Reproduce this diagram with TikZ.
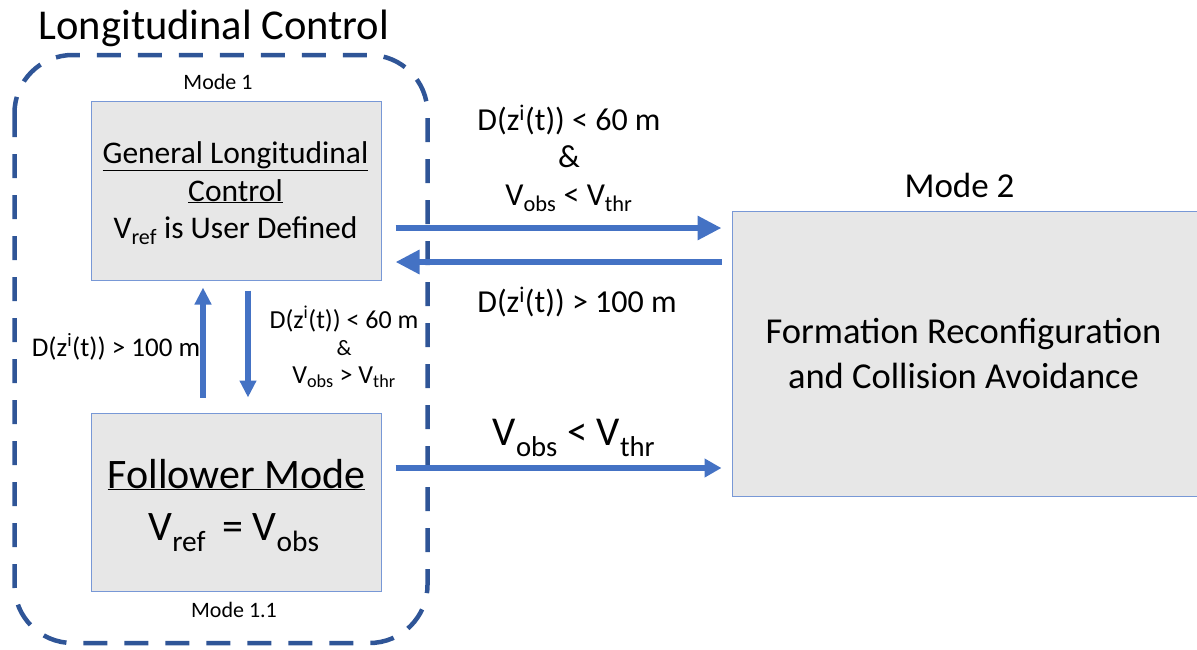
\documentclass[tikz,border=0pt]{standalone}
\usepackage{fontspec}
\setmainfont{Carlito}
\usetikzlibrary{arrows.meta}
\definecolor{boxfill}{RGB}{231,231,231}
\definecolor{boxline}{RGB}{120,152,214}
\definecolor{flowblue}{RGB}{68,114,196}
\definecolor{groupblue}{RGB}{47,85,151}
\newcommand{\fs}[1]{\fontsize{#1}{1.2\dimexpr#1pt\relax}\selectfont}
\newcommand{\dz}{D(z\textsuperscript{i}(t))}
\tikzset{
  x=1pt, y=-1pt,
  modebox/.style={draw=boxline, fill=boxfill, line width=1pt, inner sep=0pt},
  group/.style={draw=groupblue, line width=4.5pt, rounded corners=58pt,
    dash pattern=on 24pt off 17pt},
  txt/.style={anchor=base, inner sep=0pt, align=center},
  flow/.style={draw=flowblue, line width=6.5pt,
    -{Triangle[length=24pt,width=23pt]}},
  flowthin/.style={draw=flowblue, line width=5.5pt,
    -{Triangle[length=17pt,width=18pt]}},
  flowv/.style={draw=flowblue, line width=6pt,
    -{Triangle[length=17pt,width=16pt]}},
}
\begin{document}
\begin{tikzpicture}
\useasboundingbox (0,0) rectangle (1197,649);

% dashed group outline of the longitudinal control modes
\draw[group] (14.5,55) rectangle (427.5,643);
\node[txt, font=\fs{42.5}] (title) at (214,39) {Longitudinal Control};

% mode boxes
\node[modebox, minimum width=290pt, minimum height=179pt] (gen) at (236,190.5) {};
\node[modebox, minimum width=290pt, minimum height=178pt] (fol) at (236,502) {};
\node[modebox, minimum width=465pt, minimum height=285pt] (form) at (964.5,353.5) {};

% box titles and contents
\node[txt, font=\fs{22}] (m1) at (218,89) {Mode 1};
\node[txt, font=\fs{22}] (m11) at (234,617) {Mode 1.1};
\node[txt, font=\fs{35}] (m2) at (959.5,197) {Mode 2};

\node[txt, font=\fs{31.5}] (gen1) at (235.5,163) {\underline{General Longitudinal}};
\node[txt, font=\fs{31.5}] (gen2) at (235.5,201) {\underline{Control}};
\node[txt, font=\fs{31.5}] (gen3) at (235.5,238) {V\textsubscript{ref} is User Defined};

\node[txt, font=\fs{42}] (fol1) at (236.5,488) {\underline{Follower Mode}};
\node[txt, font=\fs{42}] (fol2) at (234,540) {V\textsubscript{ref}\, = V\textsubscript{obs}};

\node[txt, font=\fs{36.5}] (form1) at (963.5,343) {Formation Reconfiguration};
\node[txt, font=\fs{36.5}] (form2) at (963.5,388) {and Collision Avoidance};

% transitions
\draw[flow] ([shift={(14,37.5)}]gen.east) -- ([shift={(-10,-125.5)}]form.west);
\draw[flow] ([shift={(-10,-91.5)}]form.west) -- ([shift={(14,71.5)}]gen.east);
\draw[flowthin] ([shift={(14,-34)}]fol.east) -- ([shift={(-10,114.5)}]form.west);
\draw[flowv] ([shift={(-33,-15)}]fol.north) -- ([shift={(-33,7)}]gen.south);
\draw[flowv] ([shift={(12,10)}]gen.south) -- ([shift={(12,-15)}]fol.north);

% transition conditions
\node[txt, font=\fs{32}] (c1a) at (569,130) {\dz{} < 60 m};
\node[txt, font=\fs{32}] (c1b) at (569,167) {\&};
\node[txt, font=\fs{32}] (c1c) at (569,205) {V\textsubscript{obs} < V\textsubscript{thr}};
\node[txt, font=\fs{32}] (c2) at (577,312) {\dz{} > 100 m};
\node[txt, font=\fs{41}] (c3) at (574,445) {V\textsubscript{obs} < V\textsubscript{thr}};
\node[txt, font=\fs{27}] (c4) at (116,356) {\dz{} > 100 m};
\node[txt, font=\fs{26}] (c5a) at (344,328) {\dz{} < 60 m};
\node[txt, font=\fs{22}] (c5b) at (344,355) {\&};
\node[txt, font=\fs{26}] (c5c) at (344,383) {V\textsubscript{obs} > V\textsubscript{thr}};
\end{tikzpicture}
\end{document}
